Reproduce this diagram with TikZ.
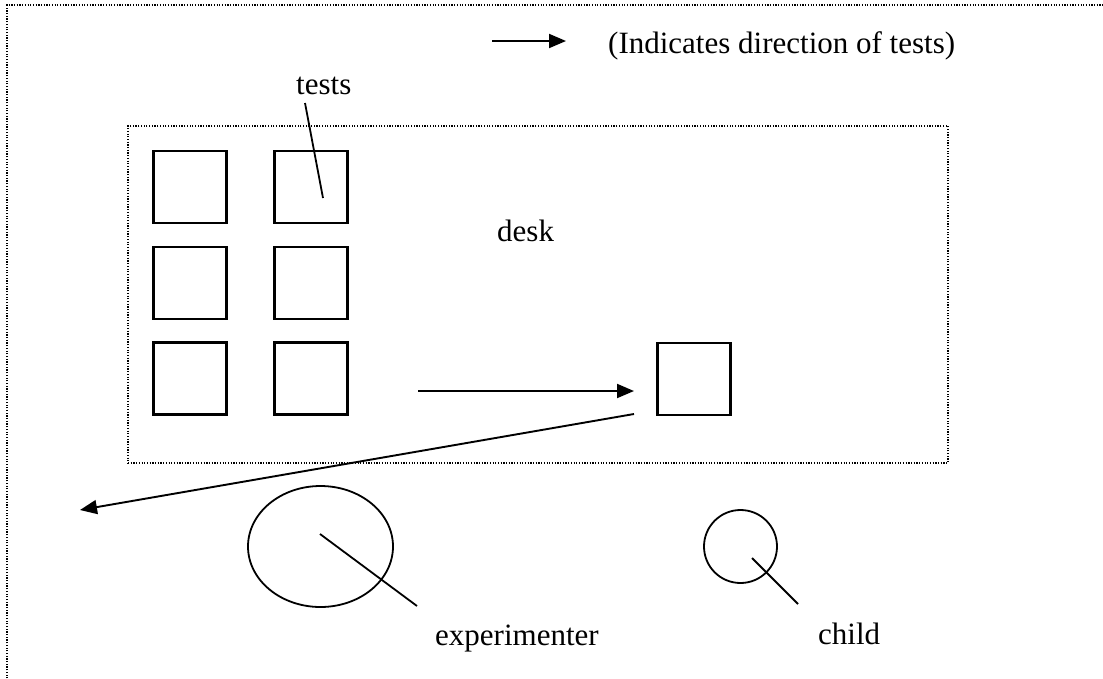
\documentclass[tikz,border=0pt]{standalone}
\usepackage{fontspec}
\setmainfont{Liberation Serif}
\usetikzlibrary{shapes.geometric,arrows.meta}
\tikzset{
  frame/.style={draw, line width=1.3pt, dash pattern=on 1.2pt off 1.5pt},
  testbox/.style={draw, line width=2.2pt, minimum width=73pt, minimum height=72pt, inner sep=0pt},
  lbl/.style={inner sep=0pt, anchor=base west, font=\fontsize{31}{37}\selectfont},
  pointer/.style={line width=1.8pt},
  flow/.style={line width=1.9pt, -{Triangle[length=17pt,width=14pt]}},
}
\begin{document}
\begin{tikzpicture}[x=1pt,y=-1pt]
\clip (0,0) rectangle (1103,678);
\fill[white] (0,0) rectangle (1103,678);
% outer frame (partly outside the page)
\draw[frame] (7,700) -- (7,5) -- (1120,5);
% desk
\node[frame, minimum width=820pt, minimum height=337pt, inner sep=0pt] (desk) at (538,294.5) {};
\node[lbl] (desklbl) at (497,241) {desk};
% test boxes
\node[testbox] (t11) at (190,187) {};
\node[testbox] (t12) at (311,187) {};
\node[testbox] (t21) at (190,283) {};
\node[testbox] (t22) at (311,283) {};
\node[testbox] (t31) at (190,378.5) {};
\node[testbox] (t32) at (311,378.5) {};
\node[testbox] (tcur) at (694,379) {};
% tests label and pointer
\node[lbl] (testslbl) at (296,94) {tests};
\coordinate (tpA) at (305,103);
\coordinate (tpB) at (323,198);
\draw[pointer] (tpA) -- (tpB);
% arrows of direction
\coordinate (h1) at (418,391);
\coordinate (h2) at (634,391);
\draw[flow] (h1) -- (h2);
\coordinate (d1) at (634,414);
\coordinate (d2) at (80,510);
\draw[flow] (d1) -- (d2);
% legend
\coordinate (lg1) at (492,41);
\coordinate (lg2) at (566,41);
\draw[flow] (lg1) -- (lg2);
\node[lbl] (legend) at (608,53) {(Indicates direction of tests)};
% experimenter
\node[draw, ellipse, line width=1.8pt, minimum width=145pt, minimum height=121pt, inner sep=0pt] (exp) at (320.5,546.5) {};
\coordinate (ep1) at (320,534);
\coordinate (ep2) at (417,606);
\draw[pointer] (ep1) -- (ep2);
\node[lbl] (explbl) at (435,645) {experimenter};
% child
\node[draw, circle, line width=1.8pt, minimum size=73pt, inner sep=0pt] (child) at (740.5,546.5) {};
\coordinate (cp1) at (752,558);
\coordinate (cp2) at (798,604);
\draw[pointer] (cp1) -- (cp2);
\node[lbl] (childlbl) at (818,644) {child};
\end{tikzpicture}
\end{document}
